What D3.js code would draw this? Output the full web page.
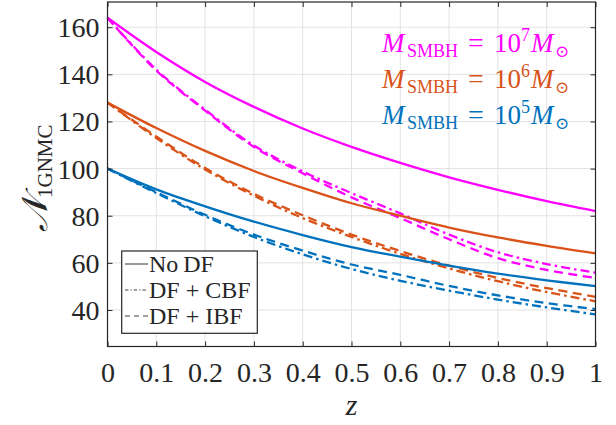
<!DOCTYPE html>
<html>
<head>
<meta charset="utf-8">
<script src="https://cdn.jsdelivr.net/npm/d3@7"></script>
<style>
  body { margin: 0; background: #fff; }
  svg { display: block; }
  text { font-family: "Liberation Serif", "DejaVu Serif", serif; fill: #262626; }
</style>
</head>
<body>
<div id="chart"></div>
<script>
// redshift samples
var zValues = [0, 0.1, 0.2, 0.3, 0.4, 0.5, 0.6, 0.7, 0.8, 0.9, 1];

// M_SMBH = 1e7
var m7NoDF = [164, 149.5, 136.8, 126.2, 117.0, 109.2, 102.4, 96.3, 91.0, 86.2, 82.0];
var m7CBF  = [164, 142.0, 125.0, 109.8, 98.8, 89.6, 81.0, 72.0, 64.5, 59.5, 55.8];
var m7IBF  = [164, 141.6, 124.6, 109.2, 98.0, 87.8, 79.0, 70.0, 62.0, 57.0, 53.6];
// M_SMBH = 1e6
var m6NoDF = [128, 117.2, 107.5, 99.0, 91.8, 85.3, 80.0, 75.0, 70.8, 67.2, 64.0];
var m6CBF  = [128, 113.0, 99.6, 88.5, 79.0, 71.0, 63.8, 57.6, 52.2, 47.6, 43.7];
var m6IBF  = [128, 113.6, 100.3, 89.3, 80.2, 72.0, 65.0, 58.8, 53.6, 49.3, 45.6];
// M_SMBH = 1e5
var m5NoDF = [100, 91.2, 84.0, 77.5, 71.8, 66.7, 62.6, 58.8, 55.4, 52.6, 50.1];
var m5CBF  = [100, 89.6, 79.8, 71.0, 63.6, 57.4, 52.4, 48.2, 44.4, 41.1, 38.1];
var m5IBF  = [100, 90.0, 80.4, 72.0, 65.2, 59.3, 54.9, 50.2, 46.2, 42.9, 40.4];

var xTicks = [0, 0.1, 0.2, 0.3, 0.4, 0.5, 0.6, 0.7, 0.8, 0.9, 1];
var yTicks = [40, 60, 80, 100, 120, 140, 160];
var massExponents = ["7", "6", "5"];
var legendLabels = ["No\u2009DF", "DF + CBF", "DF + IBF"];

var colors = { "7": "#ff00ff", "6": "#d95319", "5": "#0072bd" };
var dashes = { noDF: null, CBF: "9,4,2.5,4", IBF: "9,5.5" };

var series = [
    { m: "7", kind: "noDF", values: m7NoDF },
    { m: "7", kind: "CBF", values: m7CBF },
    { m: "7", kind: "IBF", values: m7IBF },
    { m: "6", kind: "noDF", values: m6NoDF },
    { m: "6", kind: "CBF", values: m6CBF },
    { m: "6", kind: "IBF", values: m6IBF },
    { m: "5", kind: "noDF", values: m5NoDF },
    { m: "5", kind: "CBF", values: m5CBF },
    { m: "5", kind: "IBF", values: m5IBF }
];

(function () {
    var W = 616, H = 425;
    var pl = 107.5, pr = 595.5, pt = 2, pb = 346.5;

    var svg = d3.select("#chart").append("svg")
        .attr("width", W)
        .attr("height", H);

    var x = d3.scaleLinear().domain([0, 1]).range([pl, pr]);
    var y = d3.scaleLinear().domain([24.5, 170.7]).range([pb, pt]);

    // grid
    var grid = svg.append("g").attr("stroke", "#e3e3e3").attr("stroke-width", 1);
    grid.selectAll(".gx").data(xTicks.slice(1, -1)).enter().append("line")
        .attr("x1", function (d) { return x(d); }).attr("x2", function (d) { return x(d); })
        .attr("y1", pt).attr("y2", pb);
    grid.selectAll(".gy").data(yTicks).enter().append("line")
        .attr("x1", pl).attr("x2", pr)
        .attr("y1", function (d) { return y(d); }).attr("y2", function (d) { return y(d); });

    // curves
    var line = d3.line()
        .x(function (d, i) { return x(zValues[i]); })
        .y(function (d) { return y(d); })
        .curve(d3.curveCatmullRom.alpha(0.5));

    svg.append("g").selectAll("path").data(series).enter().append("path")
        .attr("d", function (d) { return line(d.values); })
        .attr("fill", "none")
        .attr("stroke", function (d) { return colors[d.m]; })
        .attr("stroke-width", 2.3)
        .attr("stroke-dasharray", function (d) { return dashes[d.kind]; });

    // axes, ticks pointing in, box on all sides
    var tickLen = 5;
    var bottomAxis = d3.axisBottom(x).tickValues(xTicks).tickSize(-tickLen).tickFormat(d3.format("~g"));
    var topAxis = d3.axisTop(x).tickValues(xTicks).tickSize(-tickLen).tickFormat("");
    var leftAxis = d3.axisLeft(y).tickValues(yTicks).tickSize(-tickLen);
    var rightAxis = d3.axisRight(y).tickValues(yTicks).tickSize(-tickLen).tickFormat("");

    function styleAxis(g) {
        g.attr("font-family", null).attr("font-size", null);
        g.select(".domain").remove();
        g.selectAll("line").attr("stroke", "#262626");
        g.selectAll("text").attr("fill", "#262626").style("font-size", "28px")
            .style("font-family", "'Liberation Serif', serif");
    }

    svg.append("g").attr("transform", "translate(0," + pb + ")").call(bottomAxis).call(styleAxis)
        .selectAll("text").attr("y", 16).attr("dy", "0.71em");
    svg.append("g").attr("transform", "translate(0," + pt + ")").call(topAxis).call(styleAxis);
    svg.append("g").attr("transform", "translate(" + pl + ",0)").call(leftAxis).call(styleAxis)
        .selectAll("text").attr("x", -8).attr("dy", "0.34em");
    svg.append("g").attr("transform", "translate(" + pr + ",0)").call(rightAxis).call(styleAxis);

    svg.append("rect")
        .attr("x", pl).attr("y", pt)
        .attr("width", pr - pl).attr("height", pb - pt)
        .attr("fill", "none").attr("stroke", "#262626").attr("stroke-width", 1.2);

    // axis labels
    svg.append("text")
        .attr("x", (pl + pr) / 2).attr("y", 415)
        .attr("text-anchor", "middle")
        .style("font-size", "30px").style("font-style", "italic")
        .text("z");

    var ylab = svg.append("text")
        .attr("transform", "translate(47," + ((pt + pb) / 2 + 4) + ")rotate(-90)")
        .attr("text-anchor", "middle");
    ylab.append("tspan").style("font-size", "36px").style("font-family", "'DejaVu Serif', 'DejaVu Sans', serif")
        .style("font-style", "italic").text("\uD835\uDCA9");
    ylab.append("tspan").style("font-size", "21px").attr("dy", 5).text("1GNMC");

    // mass annotations
    massExponents.forEach(function (e, i) {
        var base = 52 + i * 36;
        var g = svg.append("g");
        function t(xp, dy, size, str, italic) {
            g.append("text").attr("x", xp).attr("y", base + dy)
                .style("font-size", size + "px")
                .style("font-style", italic ? "italic" : "normal")
                .style("fill", colors[e])
                .text(str);
        }
        t(382, 0, 27, "M", true);
        t(407, 5, 18, "SMBH", false);
        t(468, 0, 28, "=", false);
        t(494, 0, 27, "10", false);
        t(521, -11, 18, e, false);
        t(531, 0, 27, "M", true);
        t(555, 5, 17, "\u2299", false);
    });

    // legend
    var lg = svg.append("g");
    lg.append("rect")
        .attr("x", 121.7).attr("y", 251)
        .attr("width", 135.6).attr("height", 82.3)
        .attr("fill", "#fff").attr("stroke", "#262626").attr("stroke-width", 1.2);
    var legendDash = [null, "3.5,2,1.2,2", "5,4"];
    legendLabels.forEach(function (lab, i) {
        var cy = 264 + i * 26;
        lg.append("line")
            .attr("x1", 125).attr("x2", 148)
            .attr("y1", cy).attr("y2", cy)
            .attr("stroke", "#808080").attr("stroke-width", 1.6)
            .attr("stroke-dasharray", legendDash[i]);
        lg.append("text")
            .attr("x", 149).attr("y", cy + 8)
            .style("font-size", "24px")
            .text(lab);
    });
})();
</script>
</body>
</html>
